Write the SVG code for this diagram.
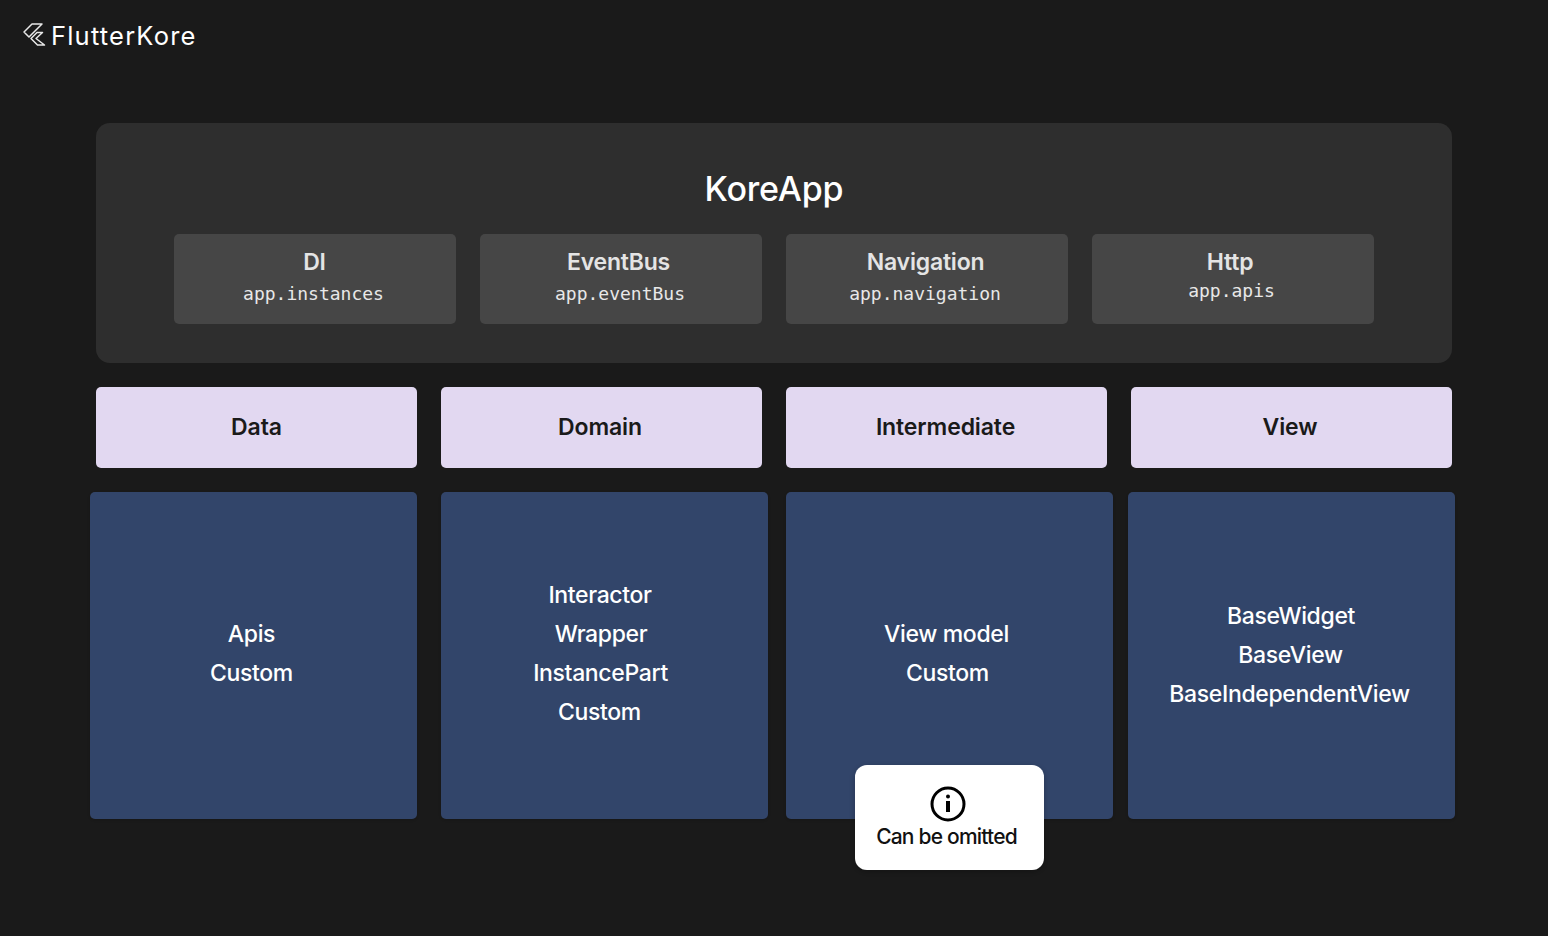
<svg xmlns="http://www.w3.org/2000/svg" width="1548" height="936" viewBox="0 0 1548 936">
<defs>
<filter id="s" x="-10%" y="-10%" width="120%" height="120%"><feDropShadow dx="0" dy="2" stdDeviation="3" flood-color="#000" flood-opacity="0.25"/></filter>
<filter id="b" x="-5%" y="-5%" width="110%" height="110%"><feDropShadow dx="0" dy="1" stdDeviation="2" flood-color="#000" flood-opacity="0.2"/></filter>
</defs>
<style>
text{font-family:Inter,"Liberation Sans",sans-serif;text-anchor:middle}
.sub{fill:#464646}.lav{fill:#e2d8f1}.blue{fill:#33456a;filter:url(#b)}
.t1{font-size:23px;font-weight:600;fill:#e4e4e4;letter-spacing:-.2px}
.m{font-family:"DejaVu Sans Mono","Liberation Mono",monospace;font-size:18px;fill:#e8e8e8}
.t2{font-size:23px;font-weight:600;fill:#1a1a1a;letter-spacing:-.12px}
.t3{font-size:23px;font-weight:500;fill:#fff;letter-spacing:-.35px}
</style>
<rect width="1548" height="936" fill="#1a1a1a"/>
<g id="logo"><path d="M32 24 H42 L29 37 L24 32 Z M37 32.500 H42.500 L36 38.500 L44.500 45 H37.500 L31 38.500 Z" fill="none" stroke="#e8e8e8" stroke-width="1.5" stroke-linejoin="round"/><text x="123.800" y="45" style="font-size:25.500px;letter-spacing:1.2px;font-weight:400;fill:#fff">FlutterKore</text></g>
<g id="koreapp"><rect x="96" y="123" width="1356" height="240" rx="14" fill="#2e2e2e"/><text x="774" y="201" style="font-size:34px;font-weight:500;fill:#fff;letter-spacing:-.15px">KoreApp</text></g>
<g id="di"><rect class="sub" x="174" y="234" width="282" height="90" rx="5"/><text class="t1" x="314.500" y="270">DI</text><text class="m" x="313.500" y="300">app.instances</text></g>
<g id="eventbus"><rect class="sub" x="480" y="234" width="282" height="90" rx="5"/><text class="t1" x="618.500" y="270">EventBus</text><text class="m" x="620" y="300">app.eventBus</text></g>
<g id="navigation"><rect class="sub" x="786" y="234" width="282" height="90" rx="5"/><text class="t1" x="925.500" y="270">Navigation</text><text class="m" x="925" y="300">app.navigation</text></g>
<g id="http"><rect class="sub" x="1092" y="234" width="282" height="90" rx="5"/><text class="t1" x="1230" y="270">Http</text><text class="m" x="1231.500" y="297">app.apis</text></g>
<g id="data"><rect class="lav" x="96" y="387" width="321" height="81" rx="5"/><text class="t2" x="256.500" y="435">Data</text></g>
<g id="domain"><rect class="lav" x="441" y="387" width="321" height="81" rx="5"/><text class="t2" x="600" y="435">Domain</text></g>
<g id="intermediate"><rect class="lav" x="786" y="387" width="321" height="81" rx="5"/><text class="t2" x="945.500" y="435">Intermediate</text></g>
<g id="view"><rect class="lav" x="1131" y="387" width="321" height="81" rx="5"/><text class="t2" x="1290" y="435">View</text></g>
<g id="data-box"><rect class="blue" x="90" y="492" width="327" height="327" rx="5"/><text class="t3" x="251.500" y="642">Apis</text><text class="t3" x="251.500" y="681">Custom</text></g>
<g id="domain-box"><rect class="blue" x="441" y="492" width="327" height="327" rx="5"/><text class="t3" x="600" y="603">Interactor</text><text class="t3" x="601" y="642">Wrapper</text><text class="t3" x="600.500" y="681">InstancePart</text><text class="t3" x="599.500" y="720">Custom</text></g>
<g id="intermediate-box"><rect class="blue" x="786" y="492" width="327" height="327" rx="5"/><text class="t3" x="946.500" y="642">View model</text><text class="t3" x="947.500" y="681">Custom</text></g>
<g id="view-box"><rect class="blue" x="1128" y="492" width="327" height="327" rx="5"/><text class="t3" x="1291" y="624">BaseWidget</text><text class="t3" x="1290.500" y="663">BaseView</text><text class="t3" x="1289.500" y="702">BaseIndependentView</text></g>
<g id="note"><rect x="855" y="765" width="189" height="105" rx="12" fill="#fff" filter="url(#s)"/><circle cx="948" cy="804" r="16" fill="none" stroke="#000" stroke-width="3"/><circle cx="948" cy="796.500" r="2" fill="#000"/><rect x="946" y="801" width="4" height="11" fill="#000"/><text x="946.500" y="843.500" style="font-size:21px;font-weight:500;fill:#111;letter-spacing:-.8px">Can be omitted</text></g>
<g id="connectors"/>
</svg>
